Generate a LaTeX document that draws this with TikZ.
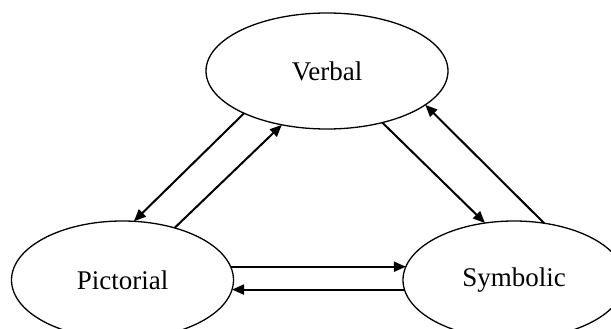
\documentclass[tikz,border=0pt]{standalone}
\usepackage{fontspec}
\setmainfont{Liberation Serif}
\usetikzlibrary{shapes.geometric,arrows.meta}

\begin{document}
\begin{tikzpicture}[x=1pt, y=-1pt,
    every node/.style={font=\fontsize{27}{32}\selectfont},
    mode/.style={draw, ellipse, line width=1.3pt, inner sep=0pt, outer sep=0pt},
    link/.style={line width=2pt, -{Triangle[length=12pt, width=10pt]}}]
  \useasboundingbox (0,0) rectangle (611,329);
  \node[mode, minimum width=242, minimum height=116] (verbal) at (327,71) {Verbal};
  \node[mode, minimum width=222, minimum height=118] (pict) at (122.5,280) {Pictorial};
  \node[mode, minimum width=222, minimum height=118] (symb) at (514,280) {Symbolic};
  % Arrows
  \draw[link] (verbal.207) -- (pict.79);
  \draw[link] (pict.45) -- (verbal.230);
  \draw[link] (verbal.317) -- (symb.117);
  \draw[link] (symb.62) -- (verbal.341);
  \draw[link] (pict.7) -- (symb.173);
  \draw[link] (symb.185) -- (pict.355);
\end{tikzpicture}
\end{document}
